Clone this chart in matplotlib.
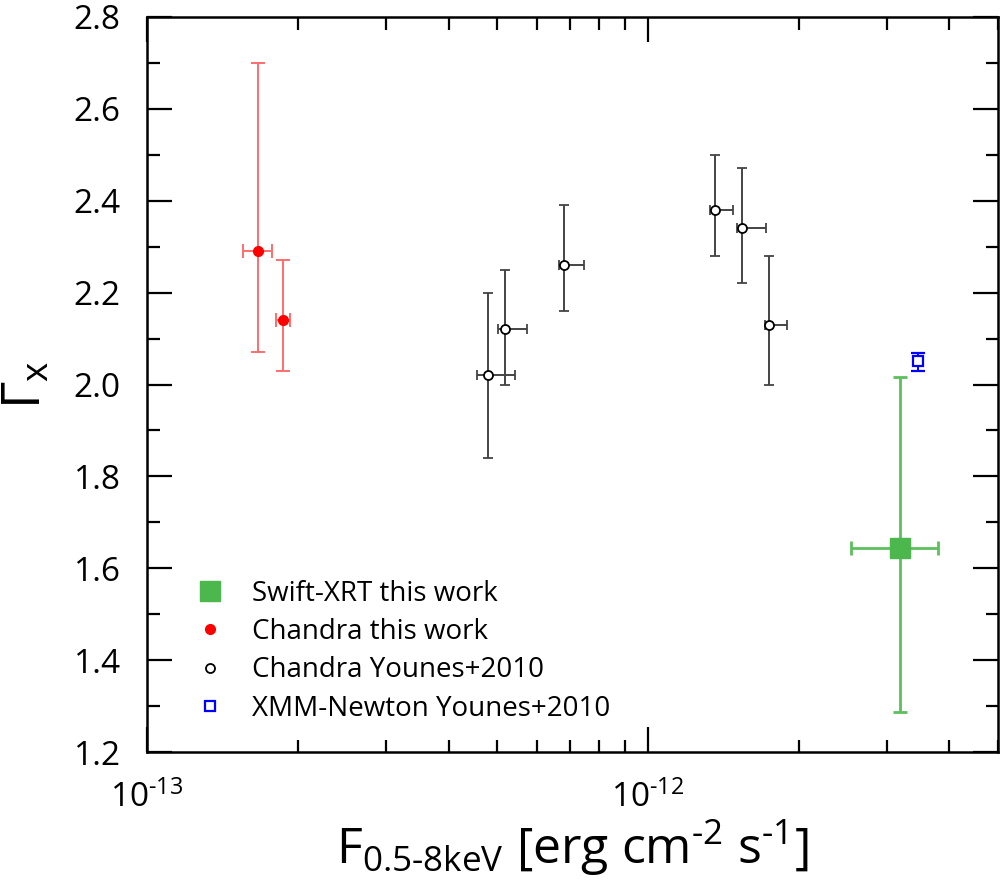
import numpy as np
import matplotlib
matplotlib.use("Agg")
import matplotlib.pyplot as plt
from matplotlib.lines import Line2D
from matplotlib.ticker import MultipleLocator, LogLocator, NullFormatter

plt.rcParams['font.family'] = ['Open Sans', 'DejaVu Sans']
plt.rcParams['mathtext.fontset'] = 'custom'
plt.rcParams['mathtext.rm'] = 'Open Sans'
plt.rcParams['mathtext.it'] = 'Open Sans:italic'
plt.rcParams['mathtext.bf'] = 'Open Sans:bold'

### data

# Chandra this work (red)
red_flux = [1.664e-13, 1.866e-13]
red_flux_lo = [1.553e-13, 1.807e-13]
red_flux_hi = [1.774e-13, 1.927e-13]
red_gamma = [2.29, 2.14]
red_gamma_lo = [2.07, 2.03]
red_gamma_hi = [2.70, 2.27]

# Chandra Younes+2010 (open black)
blk_flux = [4.80e-13, 5.18e-13, 6.80e-13, 1.36e-12, 1.54e-12, 1.745e-12]
blk_flux_lo = [4.56e-13, 5.03e-13, 6.65e-13, 1.329e-12, 1.503e-12, 1.711e-12]
blk_flux_hi = [5.43e-13, 5.74e-13, 7.46e-13, 1.477e-12, 1.724e-12, 1.898e-12]
blk_gamma = [2.02, 2.12, 2.26, 2.38, 2.34, 2.13]
blk_gamma_lo = [1.84, 2.00, 2.16, 2.28, 2.22, 2.00]
blk_gamma_hi = [2.20, 2.25, 2.39, 2.50, 2.47, 2.28]

# Swift-XRT this work (green)
grn_flux = [3.19e-12]
grn_flux_lo = [2.54e-12]
grn_flux_hi = [3.80e-12]
grn_gamma = [1.644]
grn_gamma_lo = [1.288]
grn_gamma_hi = [2.017]

# XMM-Newton Younes+2010 (blue)
blu_flux = [3.46e-12]
blu_gamma = [2.051]
blu_gamma_lo = [2.030]
blu_gamma_hi = [2.069]


def asym(c, lo, hi):
  c = np.array(c)
  return [c - np.array(lo), np.array(hi) - c]


fig = plt.figure(figsize=(10.01, 8.85), dpi=100)
ax = fig.add_axes([0.1469, 0.150, 0.8501, 0.831])

ax.errorbar(red_flux, red_gamma,
            xerr=asym(red_flux, red_flux_lo, red_flux_hi),
            yerr=asym(red_gamma, red_gamma_lo, red_gamma_hi),
            fmt='o', color='#ff0000', ms=7, ecolor='#ff6e6e',
            elinewidth=1.4, capsize=4.7, capthick=1.4, zorder=3)

ax.errorbar(blk_flux, blk_gamma,
            xerr=asym(blk_flux, blk_flux_lo, blk_flux_hi),
            yerr=asym(blk_gamma, blk_gamma_lo, blk_gamma_hi),
            fmt='o', mfc='white', mec='black', mew=1.3, ms=6.5,
            ecolor='#444444', elinewidth=1.4, capsize=3.7, capthick=1.4,
            zorder=3)

ax.errorbar(grn_flux, grn_gamma,
            xerr=asym(grn_flux, grn_flux_lo, grn_flux_hi),
            yerr=asym(grn_gamma, grn_gamma_lo, grn_gamma_hi),
            fmt='s', color='#4cb74c', ms=14, ecolor='#5cc05c',
            elinewidth=2, capsize=5.3, capthick=2, zorder=3)

ax.errorbar(blu_flux, blu_gamma,
            yerr=asym(blu_gamma, blu_gamma_lo, blu_gamma_hi),
            fmt='s', mfc='white', mec='#0000ff', mew=1.6, ms=6.5,
            ecolor='#0000ff', elinewidth=1.4, capsize=5, capthick=1.4,
            zorder=3)

ax.set_xscale('log')
ax.set_xlim(1e-13, 5e-12)
ax.set_ylim(1.2, 2.8)

ax.set_xticks([1e-13, 1e-12])
ax.set_xticklabels([r'$10^{\text{-}13}$', r'$10^{\text{-}12}$'])
ax.xaxis.set_minor_locator(LogLocator(base=10, subs=np.arange(2, 10)))
ax.xaxis.set_minor_formatter(NullFormatter())

yt = np.arange(1.2, 2.81, 0.2)
ax.set_yticks(yt)
ax.set_yticklabels(['%.1f' % v for v in yt])
ax.yaxis.set_minor_locator(MultipleLocator(0.1))

ax.tick_params(which='both', direction='in', top=True, right=True,
               width=1.6, labelsize=24)
ax.tick_params(which='major', length=18)
ax.tick_params(which='minor', length=9)
ax.tick_params(axis='x', which='major', pad=21)
ax.tick_params(axis='y', which='major', pad=19)

for s in ax.spines.values():
  s.set_linewidth(1.8)

ax.set_xlabel(r'F$_{\mathrm{0.5\text{-}8keV}}$ [erg cm$^{\text{-}2}$ s$^{\text{-}1}$]',
              fontsize=36, labelpad=2)
ax.set_ylabel(r'$\Gamma_{\mathrm{x}}$', fontsize=38, labelpad=14)

handles = [
  Line2D([], [], ls='none', marker='s', color='#4cb74c', ms=14),
  Line2D([], [], ls='none', marker='o', color='#ff0000', ms=7),
  Line2D([], [], ls='none', marker='o', mfc='white', mec='black', mew=1.3, ms=6.5),
  Line2D([], [], ls='none', marker='s', mfc='white', mec='#0000ff', mew=1.6, ms=6.5),
]
labels = ['Swift-XRT this work', 'Chandra this work',
          'Chandra Younes+2010', 'XMM-Newton Younes+2010']
ax.legend(handles, labels, loc='lower left', bbox_to_anchor=(0.028, 0.01),
          frameon=False, fontsize=20, handlelength=1.2, handletextpad=0.92,
          labelspacing=0.37, borderpad=0.3)

plt.savefig('out.png', dpi=100)
